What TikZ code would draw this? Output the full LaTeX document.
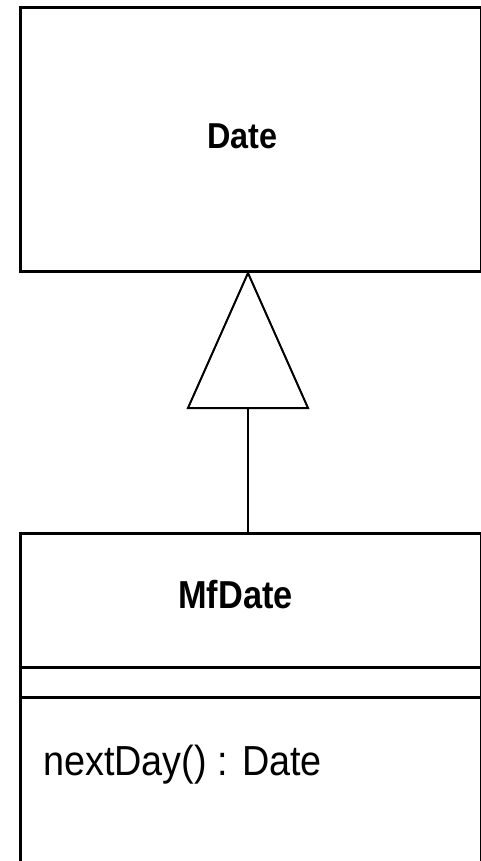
\documentclass[tikz,border=0pt]{standalone}
\usepackage{graphicx}
\usepackage{fontspec}
\setmainfont{Liberation Sans}
\tikzset{
  classbox/.style={draw, line width=3pt, rectangle, inner sep=0pt},
  sep/.style={line width=3pt},
  gentri/.style={line width=2pt, line join=miter},
  link/.style={line width=1.5pt},
  title/.style={anchor=base, inner sep=0pt, font=\bfseries},
  member/.style={anchor=base west, inner sep=0pt}
}
\begin{document}
\begin{tikzpicture}[x=1pt, y=-1pt]
  \useasboundingbox (0,0) rectangle (481,861);
  \clip (0,0) rectangle (481,861);
  \fill[white] (0,0) rectangle (481,861);

  % superclass
  \node[classbox, minimum width=460.5pt, minimum height=264pt] (date) at (250.75,139.5) {};
  \node[title] (datename) at (242.5,149) {\fontsize{36}{40}\selectfont\scalebox{0.9}[1]{Date}};

  % subclass, open at the bottom
  \node[classbox, minimum width=460.5pt, minimum height=346.5pt] (mfdate) at (250.75,706.75) {};
  \node[title] (mfname) at (235.5,608) {\fontsize{39}{44}\selectfont\scalebox{0.88}[1]{MfDate}};
  \coordinate (sepA) at (0,667.5);
  \coordinate (sepB) at (0,697.5);
  \draw[sep] (mfdate.west |- sepA) -- (mfdate.east |- sepA);
  \draw[sep] (mfdate.west |- sepB) -- (mfdate.east |- sepB);
  \node[member] (nextday) at (43,775) {\fontsize{42}{46}\selectfont\scalebox{0.9}[1]{nextDay() : Date}};

  % generalization arrow
  \coordinate (apex) at (248,273);
  \coordinate (baseL) at (188,408);
  \coordinate (baseR) at (308,408);
  \coordinate (baseM) at (248,408);
  \draw[gentri] (apex) -- (baseL) -- (baseR) -- cycle;
  \draw[link] (baseM) -- (baseM |- mfdate.north);
\end{tikzpicture}
\end{document}
